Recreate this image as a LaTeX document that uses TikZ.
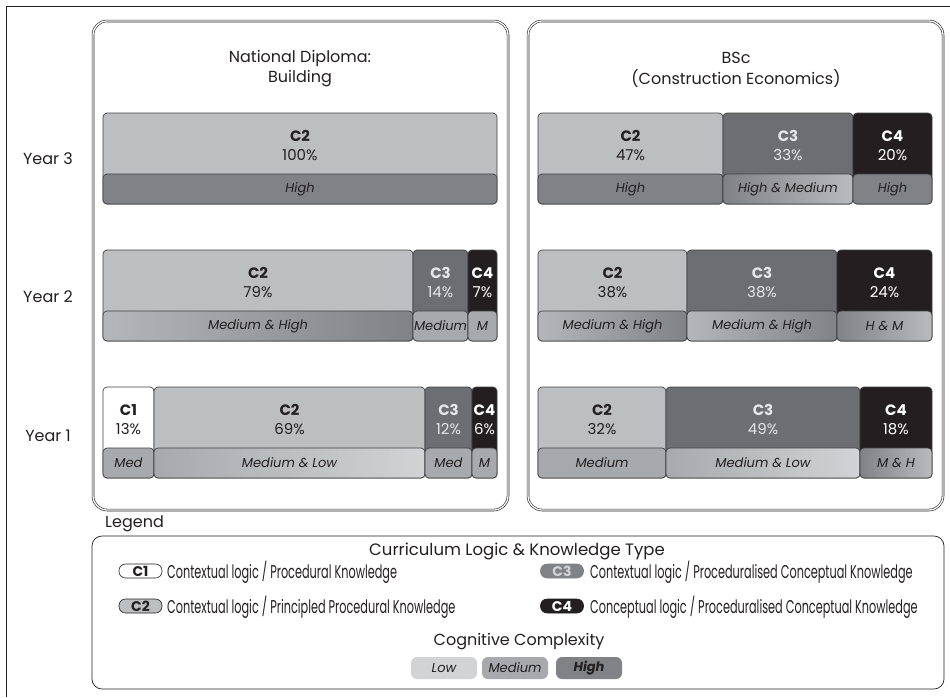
\documentclass[tikz,border=0pt]{standalone}
\usepackage{fontspec}
\setmainfont{Poppins}
\usepackage{graphicx}

\definecolor{ink}{HTML}{231F20}
\definecolor{edge}{HTML}{414042}
\definecolor{ctwo}{HTML}{BCBEC0}
\definecolor{cthree}{HTML}{6D6E71}
\definecolor{cfour}{HTML}{231F20}
\definecolor{lvH}{HTML}{808285}
\definecolor{lvM}{HTML}{A7A9AC}
\definecolor{lvL}{HTML}{D1D3D4}
\definecolor{pale}{HTML}{E6E7E8}

% one knowledge segment: box, complexity band and three labels
% #1 name, #2 x left, #3 x right, #4 top, #5 type, #6 code, #7 share, #8 band, #9 band label
\newcommand{\kseg}[9]{%
  \path[segbox, kfill #5] (#2,#4) rectangle (#3,#4+91);
  \path[segbox, band #8] (#2,#4+61) rectangle (#3,#4+91);
  \node[segcode, ktext #5] (#1-code) at ({(#2+#3)/2},#4+23) {#6};
  \node[segpct, ktext #5] (#1-pct) at ({(#2+#3)/2},#4+42) {#7};
  \node[bandtxt] (#1-band) at ({(#2+#3)/2},#4+76) {#9};
}
\newcommand{\cond}[1]{\scalebox{0.61}[1]{#1}}

\begin{document}
\begin{tikzpicture}[x=1pt,y=-1pt,
  frame/.style={draw=ink, line width=0.9pt},
  panel/.style={draw=ink, line width=0.6pt, double=white, double distance=1.3pt, rounded corners=14pt},
  segbox/.style={draw=edge, line width=0.7pt, rounded corners=4pt},
  kfill c1/.style={fill=white}, ktext c1/.style={text=ink},
  kfill c2/.style={fill=ctwo}, ktext c2/.style={text=ink},
  kfill c3/.style={fill=cthree}, ktext c3/.style={text=pale},
  kfill c4/.style={fill=cfour}, ktext c4/.style={text=white},
  band H/.style={fill=lvH},
  band M/.style={fill=lvM},
  band MH/.style={left color=lvM!85!white, right color=lvH},
  band HM/.style={left color=lvH, right color=lvM!80!white},
  band ML/.style={left color=lvM, right color=lvL},
  segcode/.style={font=\fontsize{15}{17}\selectfont\bfseries, inner sep=0pt},
  segpct/.style={font=\fontsize{15}{17}\selectfont, inner sep=0pt},
  bandtxt/.style={font=\fontsize{13}{15}\selectfont\itshape, text=ink, inner sep=0pt},
  head/.style={font=\fontsize{16}{18}\selectfont, text=ink, inner sep=0pt},
  yearlab/.style={font=\fontsize{16}{18}\selectfont, text=ink, inner sep=0pt},
  pill/.style={draw=ink, line width=0.6pt, rounded corners=6.5pt, minimum width=43pt, minimum height=14pt, inner sep=0pt, font=\fontsize{14}{14}\selectfont\bfseries},
  desc/.style={anchor=west, inner sep=0pt, text=ink, font=\fontsize{18.5}{20}\selectfont},
  level/.style={rounded corners=6pt, minimum width=66pt, minimum height=22pt, inner sep=0pt, text=ink, font=\fontsize{13}{15}\selectfont\itshape}
]
\useasboundingbox (0,0) rectangle (950,697);

% cropped outer frame
\coordinate (fa) at (6,697);
\coordinate (fb) at (6,6);
\coordinate (fc) at (950,6);
\draw[frame] (fa) -- (fb) -- (fc);

% programme panels
\draw[panel] (93,21) rectangle (508,510);
\draw[panel] (528,21) rectangle (943,510);
\node[head] (ndtitle) at (300,58) {National Diploma:};
\node[head] (ndtitle2) at (300,79) {Building};
\node[head] (bsctitle) at (736,58) {BSc};
\node[head] (bsctitle2) at (736,79) {(Construction Economics)};

% year labels
\node[yearlab] (y3) at (48,159) {Year 3};
\node[yearlab] (y2) at (48,297) {Year 2};
\node[yearlab] (y1) at (48,436) {Year 1};

% National Diploma, year 3
\kseg{nd3a}{103}{497}{113}{c2}{C2}{100\%}{H}{High}
% BSc, year 3
\kseg{bs3a}{538}{723}{113}{c2}{C2}{47\%}{H}{High}
\kseg{bs3b}{723}{853}{113}{c3}{C3}{33\%}{HM}{High \& Medium}
\kseg{bs3c}{853}{932}{113}{c4}{C4}{20\%}{H}{High}

% National Diploma, year 2
\kseg{nd2a}{103}{413}{250}{c2}{C2}{79\%}{MH}{Medium \& High}
\kseg{nd2b}{413}{468}{250}{c3}{C3}{14\%}{M}{Medium}
\kseg{nd2c}{468}{497}{250}{c4}{C4}{7\%}{M}{M}
% BSc, year 2
\kseg{bs2a}{538}{687}{250}{c2}{C2}{38\%}{MH}{Medium \& High}
\kseg{bs2b}{687}{837}{250}{c3}{C3}{38\%}{MH}{Medium \& High}
\kseg{bs2c}{837}{932}{250}{c4}{C4}{24\%}{HM}{H \& M}

% National Diploma, year 1
\kseg{nd1a}{103}{154}{387}{c1}{C1}{13\%}{M}{Med}
\kseg{nd1b}{154}{425}{387}{c2}{C2}{69\%}{ML}{Medium \& Low}
\kseg{nd1c}{425}{472}{387}{c3}{C3}{12\%}{M}{Med}
\kseg{nd1d}{472}{497}{387}{c4}{C4}{6\%}{M}{M}
% BSc, year 1
\kseg{bs1a}{538}{666}{387}{c2}{C2}{32\%}{M}{Medium}
\kseg{bs1b}{666}{860}{387}{c3}{C3}{49\%}{ML}{Medium \& Low}
\kseg{bs1c}{860}{932}{387}{c4}{C4}{18\%}{HM}{M \& H}

% legend
\node[head, anchor=west] (legend) at (105,524) {Legend};
\draw[draw=ink, line width=0.7pt, rounded corners=10pt] (92,536) rectangle (944,689);
\node[head, font=\fontsize{16.5}{18}\selectfont] (clk) at (517,551) {Curriculum Logic \& Knowledge Type};

\node[pill, fill=white, text=ink] (lc1) at (140.5,571) {C1};
\node[desc] (lc1d) at (167,572) {\cond{Contextual logic / Procedural Knowledge}};
\node[pill, fill=ctwo, text=ink] (lc2) at (140.5,606) {C2};
\node[desc] (lc2d) at (167,607) {\cond{Contextual logic / Principled Procedural Knowledge}};
\node[pill, fill=lvH, draw=lvH, text=lvL] (lc3) at (562,571) {C3};
\node[desc] (lc3d) at (590,572) {\cond{Contextual logic / Proceduralised Conceptual Knowledge}};
\node[pill, fill=cfour, text=white] (lc4) at (562,606) {C4};
\node[desc] (lc4d) at (590,607) {\cond{Conceptual logic / Proceduralised Conceptual Knowledge}};

\node[head] (cc) at (519,642) {Cognitive Complexity};
\node[level, fill=lvL] (low) at (444,668) {Low};
\node[level, fill=lvM] (med) at (515,668) {Medium};
\node[level, fill=lvH, font=\fontsize{13}{15}\selectfont\itshape\bfseries] (high) at (589,668) {High};
\end{tikzpicture}
\end{document}
